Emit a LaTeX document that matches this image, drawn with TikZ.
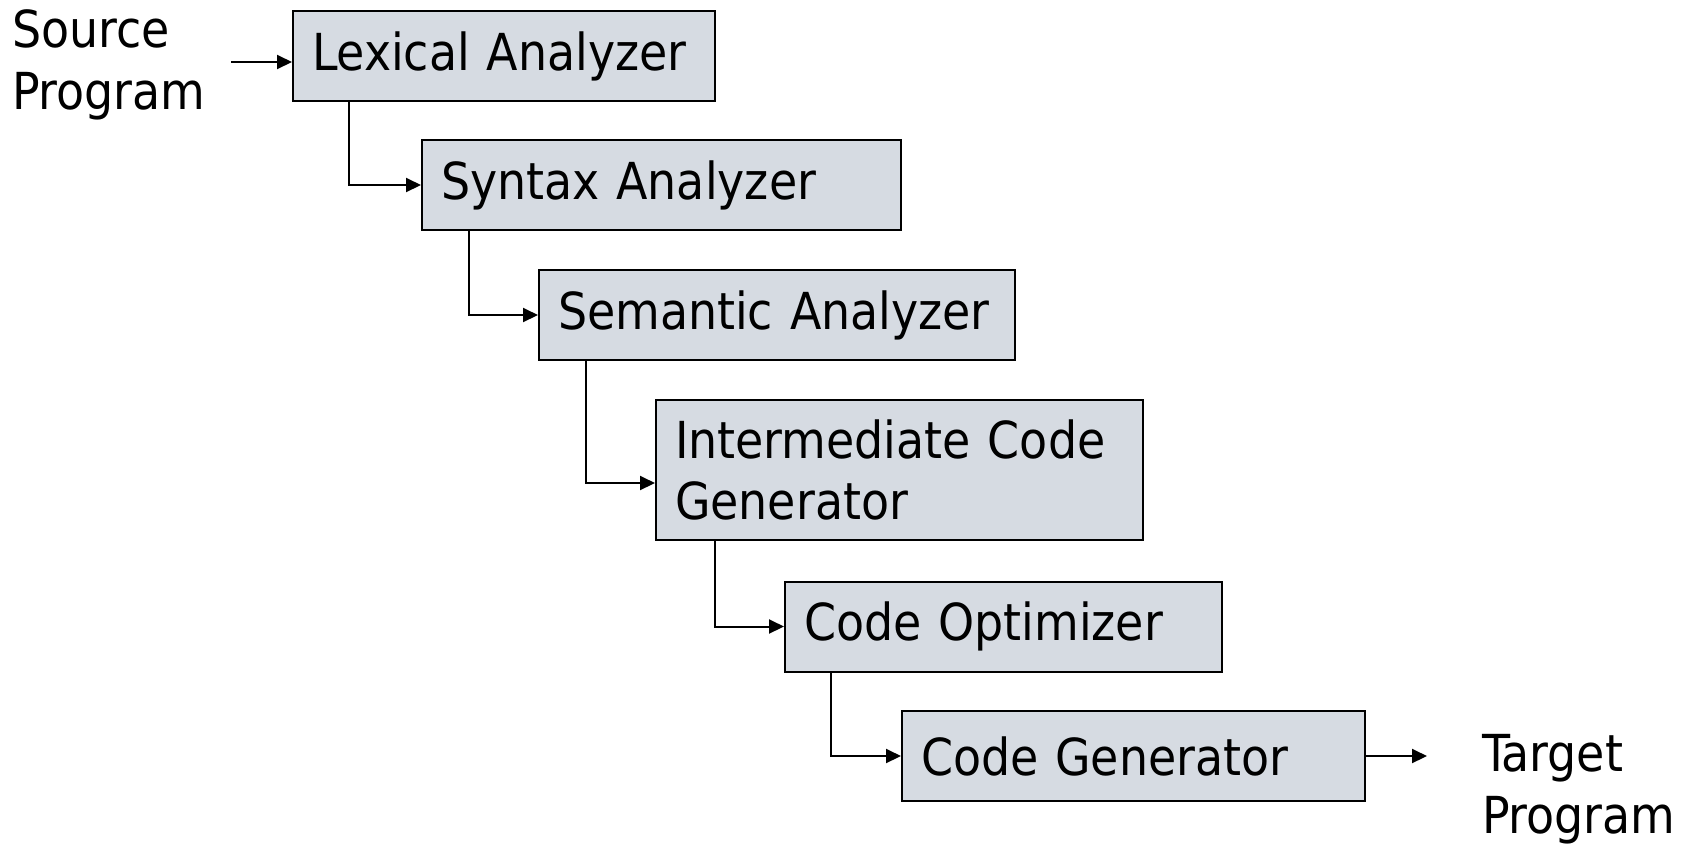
\documentclass[tikz,border=0pt]{standalone}
\usepackage{fontspec}
\setmainfont{DejaVu Sans Condensed}
\usepackage{tikz}
\usetikzlibrary{arrows.meta}
\definecolor{phasegray}{RGB}{214,219,226}

\begin{document}
\begin{tikzpicture}[x=0.5pt,y=-0.5pt,line width=1pt,
		flow/.style={-{Triangle[length=7.5pt,width=7pt]}},
		phase node/.style={rectangle,fill=phasegray,draw,line width=1pt,
			font=\fontsize{25.5}{30.5}\selectfont,align=left,
			inner xsep=9.5pt,inner ysep=0pt,minimum height=45pt},
		io node/.style={font=\fontsize{25.5}{31}\selectfont,align=left,inner sep=0pt}]
	\useasboundingbox (0,0) rectangle (1698,848);
	
	\node[io node,anchor=west] (src) at (11,65) {Source\\Program};
	\node[phase node,text width=192pt] (lex) at (504,56) {Lexical Analyzer};
	\node[phase node,text width=220.5pt] (syn) at (661.5,185) {Syntax Analyzer};
	\node[phase node,text width=219pt] (sem) at (777,315) {Semantic Analyzer};
	\node[phase node,text width=224.5pt,minimum height=70pt] (inter) at (899.5,470) {Intermediate Code\\Generator};
	\node[phase node,text width=199.5pt] (opt) at (1003.5,626.5) {Code Optimizer};
	\node[phase node,text width=212.5pt] (gen) at (1133.5,756) {Code Generator};
	\node[io node,anchor=west] (tgt) at (1481,789) {Target\\Program};
	\coordinate (srcout) at (231,62);
	\coordinate (tgtin) at (1427,756);
	\coordinate (interin) at (inter.west |- 0,483);
	
	\draw[flow] (srcout) -- (srcout -| lex.west);
	\draw[flow] ([xshift=28.5pt]lex.south west) |- (syn);
	\draw[flow] ([xshift=24pt]syn.south west) |- (sem);
	\draw[flow] ([xshift=24pt]sem.south west) |- (interin);
	\draw[flow] ([xshift=30pt]inter.south west) |- (opt);
	\draw[flow] ([xshift=23.5pt]opt.south west) |- (gen);
	\draw[flow] (gen.east) -- (tgtin);
	
\end{tikzpicture}
\end{document}
